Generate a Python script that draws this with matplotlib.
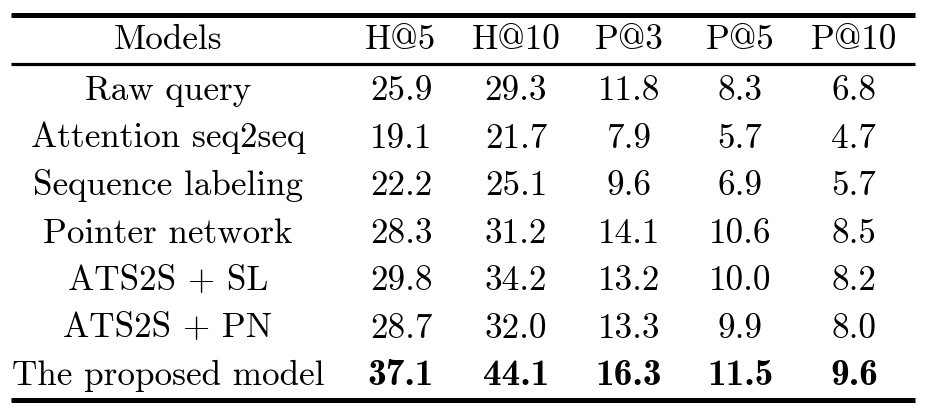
import matplotlib.pyplot as plt

models = ['Raw query', 'Attention seq2seq', 'Sequence labeling', 'Pointer network',
          'ATS2S + SL', 'ATS2S + PN', 'The proposed model']
headers = ['Models', 'H@5', 'H@10', 'P@3', 'P@5', 'P@10']
h5 = ['25.9', '19.1', '22.2', '28.3', '29.8', '28.7', '37.1']
h10 = ['29.3', '21.7', '25.1', '31.2', '34.2', '32.0', '44.1']
p3 = ['11.8', '7.9', '9.6', '14.1', '13.2', '13.3', '16.3']
p5 = ['8.3', '5.7', '6.9', '10.6', '10.0', '9.9', '11.5']
p10 = ['6.8', '4.7', '5.7', '8.5', '8.2', '8.0', '9.6']
best_row = 6

W, H = 925, 412
fig = plt.figure(figsize=(W / 100, H / 100), dpi=100)
ax = fig.add_axes([0, 0, 1, 1])
ax.set_xlim(0, W)
ax.set_ylim(H, 0)
ax.axis('off')

# column centres and baselines in pixels
col_x = [168, 401, 516, 629, 740, 854]
header_base = 48.5
row_base0, row_dy = 100, 47.5
fs = 25.3
reg = ['cmr10', 'DejaVu Serif']
bold = ['cmb10', 'DejaVu Serif']

# booktabs rules
ax.plot([11, 915], [14.5, 14.5], color='black', lw=3.6, solid_capstyle='butt')
ax.plot([11, 915], [64, 64], color='black', lw=2.3, solid_capstyle='butt')
ax.plot([11, 915], [399.5, 399.5], color='black', lw=3.6, solid_capstyle='butt')

for x, h in zip(col_x, headers):
    ax.text(x, header_base, h, ha='center', va='baseline', fontsize=fs, family=reg)

cols = [models, h5, h10, p3, p5, p10]
for i in range(len(models)):
    y = row_base0 + i * row_dy
    for j, col in enumerate(cols):
        if i == best_row and j > 0:
            ax.text(col_x[j], y, col[i], ha='center', va='baseline',
                    fontsize=fs * 1.06, family=bold)
        else:
            ax.text(col_x[j], y, col[i], ha='center', va='baseline',
                    fontsize=fs, family=reg)

fig.savefig('out.png', dpi=100)
